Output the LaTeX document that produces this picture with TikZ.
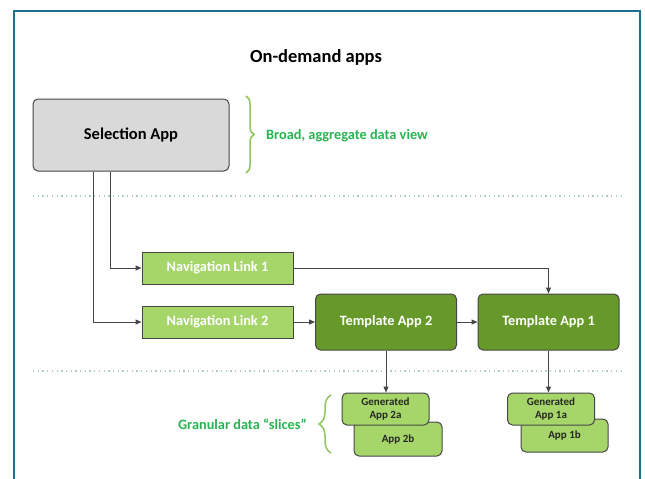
\documentclass[tikz,border=0pt]{standalone}
\usepackage{fontspec}
\setmainfont{Carlito}
\usetikzlibrary{arrows.meta,decorations.pathreplacing}
\definecolor{frameteal}{RGB}{28,112,138}
\definecolor{selfill}{RGB}{217,217,217}
\definecolor{lightgr}{RGB}{166,214,106}
\definecolor{darkgr}{RGB}{102,153,42}
\definecolor{textgr}{RGB}{40,180,80}
\definecolor{bracegr}{RGB}{140,198,90}
\definecolor{dotcol}{RGB}{175,205,185}
\definecolor{edgecol}{RGB}{70,70,70}
\tikzset{
  box/.style={draw=edgecol, line width=1pt, align=center, inner sep=0pt, font=\bfseries},
  selbox/.style={box, fill=selfill, rounded corners=5pt, minimum width=196pt, minimum height=72pt, font=\bfseries\fontsize{16.5}{18}\selectfont},
  navbox/.style={box, fill=lightgr, text=white, minimum width=151pt, minimum height=32pt, font=\bfseries\fontsize{14.3}{16}\selectfont},
  tplbox/.style={box, fill=darkgr, text=white, rounded corners=5pt, minimum width=141pt, minimum height=56pt, font=\bfseries\fontsize{14.3}{16}\selectfont},
  genbox/.style={box, fill=lightgr, text=black!85, rounded corners=5pt, minimum width=87pt, minimum height=32pt, font=\bfseries\fontsize{11}{13}\selectfont},
  conn/.style={draw=edgecol, line width=1pt, -{Triangle[length=6pt,width=5pt]}},
  plainconn/.style={draw=edgecol, line width=1pt},
  gtext/.style={text=textgr, font=\bfseries\fontsize{14.3}{16}\selectfont, inner sep=0pt},
  gbrace/.style={draw=bracegr, line width=1.5pt, decorate},
  sep/.style={draw=dotcol, line width=1.3pt, dash pattern=on 1.3pt off 3.4pt},
}
\begin{document}
\begin{tikzpicture}[x=1pt,y=-1pt]
\useasboundingbox (0,0) rectangle (645,479);
\fill[white] (0,0) rectangle (645,479);
% frame
\draw[frameteal, line width=2pt] (13.5,479) -- (13.5,10.5) -- (640,10.5) -- (640,479);
% title
\node[font=\bfseries\fontsize{18.5}{20}\selectfont, inner sep=0pt] (title) at (316,57) {On-demand apps};
% separators
\coordinate (s1a) at (33,196); \coordinate (s1b) at (625,196);
\coordinate (s2a) at (33,371); \coordinate (s2b) at (625,371);
\draw[sep] (s1a) -- (s1b);
\draw[sep] (s2a) -- (s2b);
% nodes
\node[selbox] (sel) at (131,135) {Selection App};
\node[navbox] (nav1) at (217.5,268) {Navigation Link 1};
\node[navbox] (nav2) at (217.5,322) {Navigation Link 2};
\node[tplbox] (tpl2) at (386,322) {Template App 2};
\node[tplbox] (tpl1) at (548.5,322) {Template App 1};
\node[genbox, minimum width=88pt, minimum height=34pt] (app2b) at (398,439) {App 2b};
\node[genbox] (gen2a) at (385.5,409) {Generated\\App 2a};
\node[genbox, minimum height=33pt] (app1b) at (564.5,435.5) {App 1b};
\node[genbox] (gen1a) at (551,409) {Generated\\App 1a};
% connectors
\draw[conn] ([xshift=-38pt]sel.south) |- (nav2.west);
\draw[conn] ([xshift=-21pt]sel.south) |- (nav1.west);
\draw[conn] (nav1.east) -| (tpl1.north);
\draw[conn] (nav2.east) -- (tpl2.west);
\draw[conn] (tpl2.east) -- (tpl1.west);
\draw[conn] (tpl2.south) -- (tpl2.south |- gen2a.north);
\draw[conn] (tpl1.south) -- (tpl1.south |- gen1a.north);
% braces and labels
\coordinate (b1t) at (246,96); \coordinate (b1b) at (246,173);
\draw[gbrace, decoration={brace, amplitude=8pt}] (b1t) -- (b1b);
\node[gtext, anchor=west] (broad) at (266,136) {Broad, aggregate data view};
\coordinate (b2t) at (331,395); \coordinate (b2b) at (331,453);
\draw[gbrace, decoration={brace, amplitude=12pt}] (b2b) -- (b2t);
\node[gtext, anchor=east] (gran) at (307,424) {Granular data “slices”};
\end{tikzpicture}
\end{document}
